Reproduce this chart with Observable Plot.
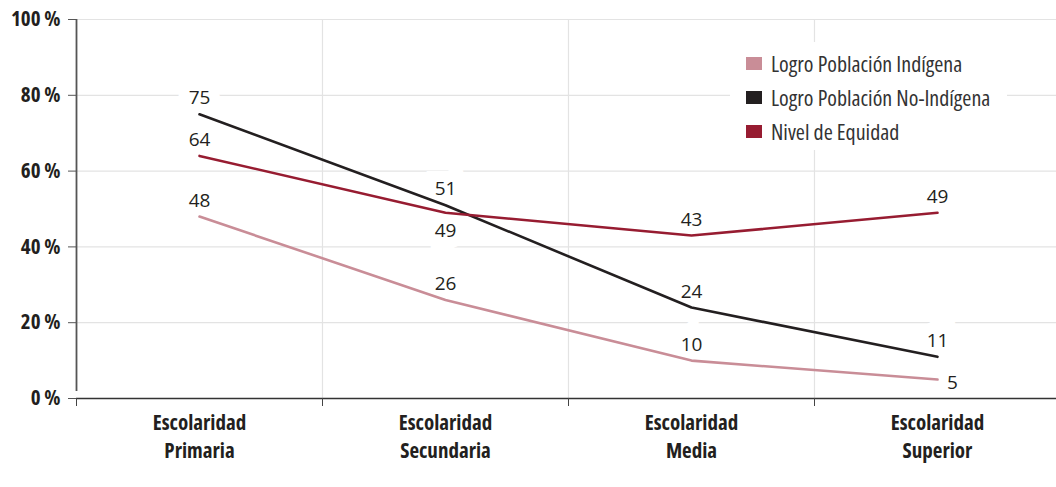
<!DOCTYPE html>
<html>
<head>
<meta charset="utf-8">
<script src="https://cdn.jsdelivr.net/npm/d3@7"></script>
<script src="https://cdn.jsdelivr.net/npm/@observablehq/plot@0.6"></script>
<style>
  html, body { margin: 0; padding: 0; background: #fff; }
  #wrap { position: relative; width: 1056px; height: 487px; overflow: hidden; }
  #chart svg { font-stretch: 78%; }
  #chart svg g[aria-label="text"] { font-stretch: 100%; }
  #legend {
    position: absolute; left: 730px; top: 42px; width: 277px; height: 108px;
    background: #fff; box-sizing: border-box; padding-left: 16px; padding-top: 4px;
    font-family: "Open Sans", sans-serif;
    font-stretch: 75%; font-size: 22px; color: #333; white-space: nowrap;
  }
  .item { display: flex; align-items: center; height: 34px; }
  .sw { width: 16px; height: 13px; margin-right: 9px; flex: none; }
</style>
</head>
<body>
<div id="wrap"><div id="chart"></div><div id="legend"></div></div>
<script>
const categories = ["Escolaridad Primaria", "Escolaridad Secundaria", "Escolaridad Media", "Escolaridad Superior"];
const tickLabels = ["Escolaridad\nPrimaria", "Escolaridad\nSecundaria", "Escolaridad\nMedia", "Escolaridad\nSuperior"];
const seriesNames = ["Logro Población Indígena", "Logro Población No-Indígena", "Nivel de Equidad"];
const indigena = [48, 26, 10, 5];
const noIndigena = [75, 51, 24, 11];
const equidad = [64, 49, 43, 49];
const yTicks = [0, 20, 40, 60, 80, 100];
const colors = ["#c98d97", "#231f20", "#971c31"];

const seriesValues = [indigena, noIndigena, equidad];
const rows = [];
seriesValues.forEach((vals, s) => vals.forEach((v, i) => rows.push({i, cat: categories[i], serie: seriesNames[s], s, value: v})));

// label placement: default above the point; a few exceptions
const isBelow = d => d.s === 2 && d.i === 1;
const isRight = d => d.s === 0 && d.i === 3;
const above = rows.filter(d => !isBelow(d) && !isRight(d));
const below = rows.filter(isBelow);
const right = rows.filter(isRight);

const condensed = `"Open Sans", sans-serif`;
const valueFont = `"Open Sans", sans-serif`;

const textOpts = {x: "i", y: "value", text: d => String(d.value), fontSize: 19, fontFamily: valueFont, fill: "#231f20"};
const haloOpts = {...textOpts, fill: "white", stroke: "white", strokeWidth: 22, strokeLinejoin: "miter"};

const bounds = [0.5, 1.5, 2.5];

const chart = Plot.plot({
  width: 1056,
  height: 487,
  marginLeft: 76,
  marginRight: 0,
  marginTop: 19,
  marginBottom: 89,
  style: {fontFamily: condensed, background: "white", color: "#231f20", overflow: "visible"},
  x: {domain: [-0.5, 3.5], range: [76, 1060], label: null},
  y: {domain: [0, 100], label: null},
  color: {domain: seriesNames, range: colors},
  marks: [
    Plot.ruleY(yTicks.filter(t => t > 0), {stroke: "#e3e3e3", strokeWidth: 1.2}),
    Plot.ruleX(bounds, {y1: 0, y2: 100, stroke: "#e3e3e3", strokeWidth: 1.2}),
    Plot.text(above, {...haloOpts, dy: -16}),
    Plot.text(below, {...haloOpts, dy: 18}),
    Plot.text(right, {...haloOpts, dx: 15, dy: 3}),
    Plot.line(rows, {x: "i", y: "value", z: "serie", stroke: "serie", strokeWidth: 2.6}),
    Plot.text(above, {...textOpts, dy: -16}),
    Plot.text(below, {...textOpts, dy: 18}),
    Plot.text(right, {...textOpts, dx: 15, dy: 3}),
    Plot.ruleY([0], {stroke: "#333", strokeWidth: 1.6}),
    Plot.ruleX([-0.5], {y1: 0, y2: 100, stroke: "#555", strokeWidth: 1.8, insetTop: -7}),
    Plot.axisY({ticks: yTicks, tickFormat: d => d + " %", tickSize: 8, tickPadding: 8, stroke: "#555",
      fontSize: 21, fontWeight: "bold", fontFamily: condensed, fill: "#231f20", label: null}),
    Plot.axisX({ticks: [-0.5, ...bounds], tickSize: 8, tickFormat: () => "", stroke: "#444", label: null}),
    Plot.axisX({ticks: [0, 1, 2, 3], tickSize: 0, tickPadding: 11, tickFormat: i => tickLabels[i],
      fontSize: 21, fontWeight: "bold", fontFamily: condensed, fill: "#231f20", lineHeight: 1.36, label: null})
  ]
});
document.getElementById("chart").appendChild(chart);

const legend = document.getElementById("legend");
seriesNames.forEach((name, k) => {
  const it = document.createElement("div");
  it.className = "item";
  const sw = document.createElement("span");
  sw.className = "sw";
  sw.style.background = colors[k];
  const tx = document.createElement("span");
  tx.textContent = name;
  it.appendChild(sw); it.appendChild(tx);
  legend.appendChild(it);
});
</script>
</body>
</html>
